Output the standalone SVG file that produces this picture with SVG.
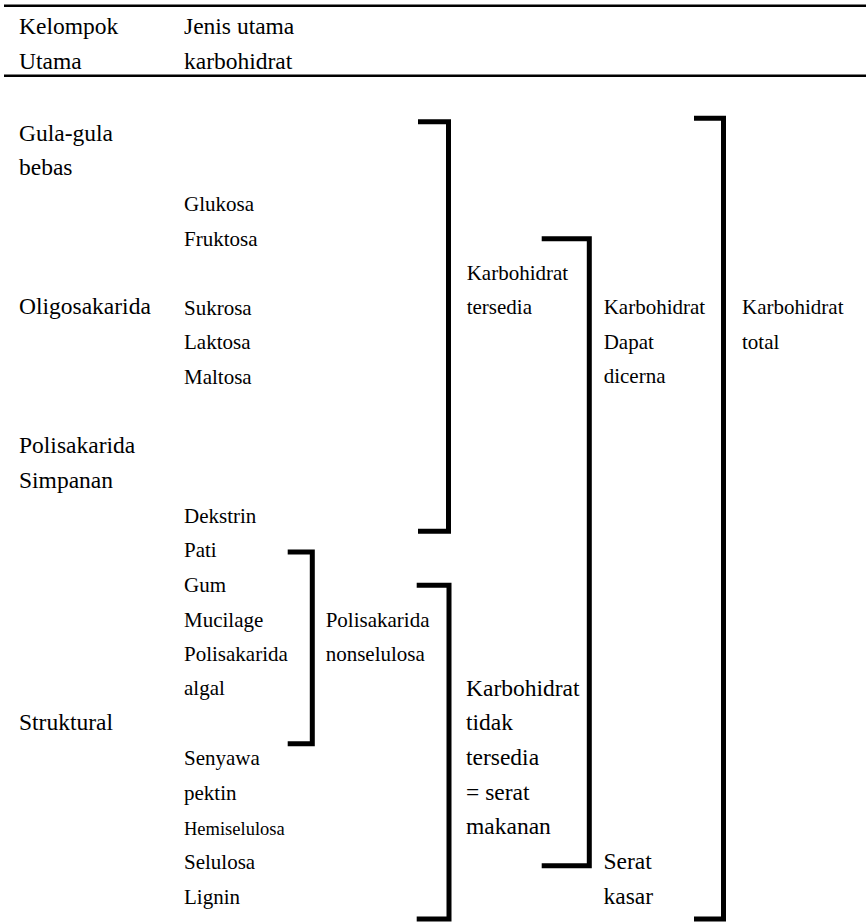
<svg xmlns="http://www.w3.org/2000/svg" width="867" height="922" viewBox="0 0 867 922">
<rect width="867" height="922" fill="#fff"/>
<g id="header">
<line x1="4" y1="5.8" x2="866" y2="5.8" stroke="#000" stroke-width="2.4"/>
<line x1="4" y1="75.8" x2="866" y2="75.8" stroke="#000" stroke-width="2.4"/>
<text x="19" y="34" font-size="23.5" font-family="Liberation Serif">Kelompok</text>
<text x="19" y="69" font-size="23.5" font-family="Liberation Serif">Utama</text>
<text x="184" y="34" font-size="23.5" font-family="Liberation Serif">Jenis utama</text>
<text x="184" y="69" font-size="23.5" font-family="Liberation Serif">karbohidrat</text>
</g>
<g id="gula-bebas"><text x="19" y="141" font-size="23.5" font-family="Liberation Serif">Gula-gula</text><text x="19" y="175" font-size="23.5" font-family="Liberation Serif">bebas</text></g>
<g id="oligosakarida"><text x="19" y="314" font-size="23.5" font-family="Liberation Serif">Oligosakarida</text></g>
<g id="polisakarida-simpanan"><text x="19" y="453" font-size="23.5" font-family="Liberation Serif">Polisakarida</text><text x="19" y="488" font-size="23.5" font-family="Liberation Serif">Simpanan</text></g>
<g id="struktural"><text x="19" y="730" font-size="23.5" font-family="Liberation Serif">Struktural</text></g>
<g id="types">
<text x="184" y="211" font-size="21" font-family="Liberation Serif">Glukosa</text>
<text x="184" y="245.5" font-size="21" font-family="Liberation Serif">Fruktosa</text>
<text x="184" y="314.5" font-size="21" font-family="Liberation Serif">Sukrosa</text>
<text x="184" y="349" font-size="21" font-family="Liberation Serif">Laktosa</text>
<text x="184" y="384" font-size="21" font-family="Liberation Serif">Maltosa</text>
<text x="184" y="523" font-size="21" font-family="Liberation Serif">Dekstrin</text>
<text x="184" y="557" font-size="21" font-family="Liberation Serif">Pati</text>
<text x="184" y="592" font-size="21" font-family="Liberation Serif">Gum</text>
<text x="184" y="626.5" font-size="21" font-family="Liberation Serif">Mucilage</text>
<text x="184" y="661" font-size="21" font-family="Liberation Serif">Polisakarida</text>
<text x="184" y="695" font-size="21" font-family="Liberation Serif">algal</text>
<text x="184" y="765" font-size="21" font-family="Liberation Serif">Senyawa</text>
<text x="184" y="800" font-size="21" font-family="Liberation Serif">pektin</text>
<text x="184" y="834.5" font-size="18.5" font-family="Liberation Serif">Hemiselulosa</text>
<text x="184" y="869" font-size="21" font-family="Liberation Serif">Selulosa</text>
<text x="184" y="903.5" font-size="21" font-family="Liberation Serif">Lignin</text>
</g>
<g id="connectors" stroke="#000" stroke-width="5" fill="none">
<path d="M418,121.7 H448.5 V531.3 H418"/>
<path d="M541.7,238.7 H589.3 V865.8 H541.7"/>
<path d="M694,118.2 H723.5 V919 H694"/>
<path d="M287.7,552 H312.3 V743.8 H287.7"/>
<path d="M416.7,585.3 H449 V919 H416.7"/>
</g>
<g id="nonselulosa"><text x="325.7" y="626.5" font-size="21" font-family="Liberation Serif">Polisakarida</text><text x="325.7" y="661" font-size="21" font-family="Liberation Serif">nonselulosa</text></g>
<g id="tersedia"><text x="466.7" y="280" font-size="21" font-family="Liberation Serif">Karbohidrat</text><text x="466.7" y="314" font-size="21" font-family="Liberation Serif">tersedia</text></g>
<g id="dapat-dicerna"><text x="603.7" y="314" font-size="21" font-family="Liberation Serif">Karbohidrat</text><text x="603.7" y="348.5" font-size="21" font-family="Liberation Serif">Dapat</text><text x="603.7" y="383" font-size="21" font-family="Liberation Serif">dicerna</text></g>
<g id="total"><text x="742" y="314" font-size="21" font-family="Liberation Serif">Karbohidrat</text><text x="742" y="348.5" font-size="21" font-family="Liberation Serif">total</text></g>
<g id="tidak-tersedia"><text x="466" y="696" font-size="23.5" font-family="Liberation Serif">Karbohidrat</text><text x="466" y="730" font-size="23.5" font-family="Liberation Serif">tidak</text><text x="466" y="765" font-size="23.5" font-family="Liberation Serif">tersedia</text><text x="466" y="799.5" font-size="23.5" font-family="Liberation Serif">= serat</text><text x="466" y="834" font-size="23.5" font-family="Liberation Serif">makanan</text></g>
<g id="serat-kasar"><text x="603.5" y="868.5" font-size="23.5" font-family="Liberation Serif">Serat</text><text x="603.5" y="903.5" font-size="23.5" font-family="Liberation Serif">kasar</text></g>
</svg>
